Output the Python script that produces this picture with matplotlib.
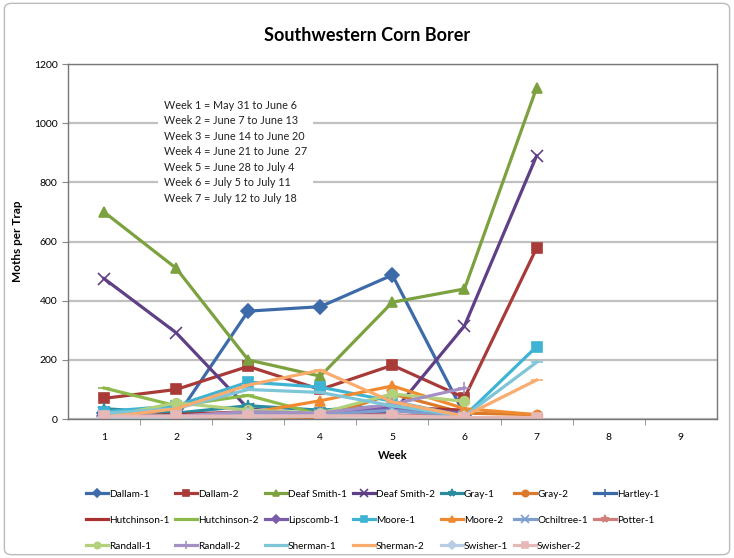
import numpy as np
import matplotlib
matplotlib.use("Agg")
import matplotlib.pyplot as plt
from matplotlib.patches import FancyBboxPatch

nan = np.nan

# ── Data (moths per trap, weeks 1-7) ───────────────────────
weeks = [1, 2, 3, 4, 5, 6, 7]
week_ticks = [1, 2, 3, 4, 5, 6, 7, 8, 9]

dallam_1      = [20, 5, 365, 380, 487, 15, nan]
dallam_2      = [70, 100, 178, 100, 182, 72, 578]
deaf_smith_1  = [700, 510, 200, 145, 395, 440, 1120]
deaf_smith_2  = [475, 292, 35, 10, 20, 315, 890]
gray_1        = [35, 20, 45, 30, 45, 10, nan]
gray_2        = [0, 0, 10, 5, 85, 20, 15]
hartley_1     = [15, 10, 20, 15, 30, 10, nan]
hutchinson_1  = [10, 15, 25, 20, 40, 30, nan]
hutchinson_2  = [105, 45, 80, 15, 10, 10, nan]
lipscomb_1    = [10, 10, 20, 15, 40, 20, nan]
moore_1       = [25, 45, 125, 108, 60, 10, 245]
moore_2       = [0, 5, 20, 62, 112, 35, 15]
ochiltree_1   = [10, 10, 15, 15, 30, 5, nan]
potter_1      = [5, 5, 10, 10, 15, 5, nan]
randall_1     = [5, 55, 30, 20, 85, 60, nan]
randall_2     = [5, 10, 25, 20, 50, 105, nan]
sherman_1     = [20, 35, 100, 90, 45, 10, 192]
sherman_2     = [5, 35, 115, 165, 58, 10, 132]
swisher_1     = [5, 5, 10, 10, 10, 5, nan]
swisher_2     = [10, 10, 10, 10, 10, 5, 5]

names = ["Dallam-1", "Dallam-2", "Deaf Smith-1", "Deaf Smith-2", "Gray-1",
         "Gray-2", "Hartley-1", "Hutchinson-1", "Hutchinson-2", "Lipscomb-1",
         "Moore-1", "Moore-2", "Ochiltree-1", "Potter-1", "Randall-1",
         "Randall-2", "Sherman-1", "Sherman-2", "Swisher-1", "Swisher-2"]
values = [dallam_1, dallam_2, deaf_smith_1, deaf_smith_2, gray_1,
          gray_2, hartley_1, hutchinson_1, hutchinson_2, lipscomb_1,
          moore_1, moore_2, ochiltree_1, potter_1, randall_1,
          randall_2, sherman_1, sherman_2, swisher_1, swisher_2]

week_notes = ["Week 1 = May 31 to June 6",
              "Week 2 = June 7 to June 13",
              "Week 3 = June 14 to June 20",
              "Week 4 = June 21 to June  27",
              "Week 5 = June 28 to July 4",
              "Week 6 = July 5 to July 11",
              "Week 7 = July 12 to July 18"]

# ── Styles (Excel-like series cycle) ───────────────────────
colors = ["#3D6BAA", "#A83B38", "#7BA23F", "#5F3F86", "#2B8B9F",
          "#DA7A2A", "#3A68A8", "#A8322F", "#8DB84A", "#7A5CA8",
          "#3FB3D3", "#F08A30", "#7F9FD0", "#D07F7D", "#B3D17A",
          "#A590C5", "#7EC5D8", "#F9AC6E", "#B8CCE4", "#E6B9B8"]
markers = ["D", "s", "^", "x", "*", "o", "+", "_", "_", "D",
           "s", "^", "x", "*", "o", "+", "_", "_", "D", "s"]

plt.rcParams["font.family"] = ["Lato", "DejaVu Sans"]

fig = plt.figure(figsize=(7.34, 5.58), dpi=100)
fig.patches.append(FancyBboxPatch((0.006, 0.006), 0.988, 0.988,
                                  boxstyle="round,pad=0,rounding_size=0.01",
                                  transform=fig.transFigure, fill=False,
                                  edgecolor="#BBBBBB", linewidth=1.0))

ax = fig.add_axes([0.0926, 0.249, 0.884, 0.636])

for name, vals, c, m in zip(names, values, colors, markers):
    ms = 8.5 if m in ("x", "+", "_", "*") else 7
    ax.plot(weeks, vals, color=c, lw=2.3, marker=m, markersize=ms,
            markerfacecolor=c, markeredgecolor=c, markeredgewidth=1.2,
            label=name, solid_joinstyle="round")

ax.set_xlim(0.5, 9.5)
ax.set_ylim(0, 1200)
ax.set_yticks(range(0, 1201, 200))
ax.set_xticks(week_ticks)
ax.set_xticks(np.arange(1.5, 9.5, 1), minor=True)
ax.tick_params(axis="x", which="major", length=0, labelsize=7.5, pad=10)
ax.tick_params(axis="x", which="minor", length=4, color="#888888")
ax.tick_params(axis="y", length=4, labelsize=7.5, color="#888888")
ax.grid(axis="y", color="#C0C0C0", lw=1.6)
ax.set_axisbelow(True)
for s in ax.spines.values():
    s.set_color("#777777")
    s.set_linewidth(1.0)

ax.set_xlabel("Week", fontsize=8, fontweight="bold", labelpad=6)
ax.set_ylabel("Moths per Trap", fontsize=8.5, fontweight="bold", labelpad=8)

ax.text(0.148, 0.9, "\n".join(week_notes), transform=ax.transAxes,
        fontsize=7.8, va="top", ha="left", linespacing=1.5, color="#222222",
        bbox=dict(facecolor="white", edgecolor="none", pad=4), zorder=5)

fig.text(0.5, 0.937, "Southwestern Corn Borer", ha="center", va="center",
         fontsize=13, fontweight="bold")

# legend filled row by row (matplotlib fills columns first)
handles, labels = ax.get_legend_handles_labels()
ncol, nrow = 7, 3
order = [r * ncol + c for c in range(ncol) for r in range(nrow)
         if r * ncol + c < len(handles)]
fig.legend([handles[i] for i in order], [labels[i] for i in order],
           loc="upper left", bbox_to_anchor=(0.105, 0.138), ncol=ncol,
           fontsize=7.2, frameon=False, handlelength=2.2, handletextpad=0.1,
           columnspacing=0.6, labelspacing=1.7, markerscale=0.65)

fig.savefig("out.png", dpi=100)
